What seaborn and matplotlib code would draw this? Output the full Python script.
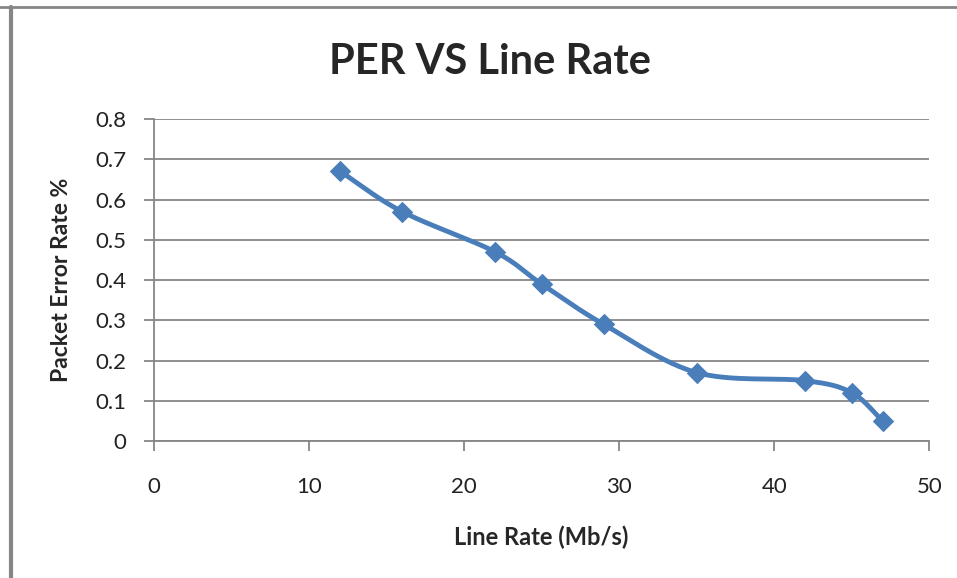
import numpy as np
import pandas as pd
import matplotlib
matplotlib.use("Agg")
import matplotlib.pyplot as plt
import seaborn as sns

line_rate = [12, 16, 22, 25, 29, 35, 42, 45, 47]
per = [0.67, 0.57, 0.47, 0.39, 0.29, 0.17, 0.15, 0.12, 0.05]
x_ticks = [0, 10, 20, 30, 40, 50]
y_ticks = [0, 0.1, 0.2, 0.3, 0.4, 0.5, 0.6, 0.7, 0.8]
y_tick_labels = ["0", "0.1", "0.2", "0.3", "0.4", "0.5", "0.6", "0.7", "0.8"]

df = pd.DataFrame({"rate": line_rate, "per": per})


# Excel-like smoothed line (Catmull-Rom through the data points)
def smooth(x, y, n=30):
    x = np.asarray(x, float)
    y = np.asarray(y, float)
    px = np.concatenate([[2 * x[0] - x[1]], x, [2 * x[-1] - x[-2]]])
    py = np.concatenate([[2 * y[0] - y[1]], y, [2 * y[-1] - y[-2]]])
    xs, ys = [], []
    t = np.linspace(0, 1, n)
    for i in range(1, len(px) - 2):
        for p, out in ((px, xs), (py, ys)):
            p0, p1, p2, p3 = p[i - 1], p[i], p[i + 1], p[i + 2]
            out.extend(0.5 * (2 * p1 + (-p0 + p2) * t
                              + (2 * p0 - 5 * p1 + 4 * p2 - p3) * t ** 2
                              + (-p0 + 3 * p1 - 3 * p2 + p3) * t ** 3))
    return pd.DataFrame({"rate": xs, "per": ys})


curve = smooth(line_rate, per)

sns.set_style("white")
plt.rcParams["font.family"] = ["Lato", "DejaVu Sans"]

blue = "#4a7ebb"
grey = "#868686"

fig = plt.figure(figsize=(9.57, 5.78), dpi=100)
ax = fig.add_axes([0.161, 0.237, 0.810, 0.557])

sns.lineplot(data=curve, x="rate", y="per", ax=ax, color=blue, linewidth=3.5,
             sort=False, estimator=None)
sns.scatterplot(data=df, x="rate", y="per", ax=ax, color=blue, marker="D",
                s=120, edgecolor=blue, linewidth=0, zorder=5)

ax.set_xlim(0, 50)
ax.set_ylim(0, 0.8)
ax.set_xticks(x_ticks)
ax.set_yticks(y_ticks)
ax.set_yticklabels(y_tick_labels)
ax.grid(axis="y", color=grey, linewidth=1.3)
ax.set_axisbelow(True)
for side in ["top", "right"]:
    ax.spines[side].set_visible(False)
for side in ["left", "bottom"]:
    ax.spines[side].set_color(grey)
    ax.spines[side].set_linewidth(1.3)
ax.tick_params(axis="both", direction="out", length=7, width=1.3, color=grey,
               labelsize=16, labelcolor="#222222", left=True, bottom=True)
ax.tick_params(axis="y", pad=13)
ax.tick_params(axis="x", pad=19)

ax.set_xlabel("Line Rate (Mb/s)", fontsize=17, fontweight="bold", va="center")
ax.xaxis.set_label_coords(0.5, -0.298)
ax.set_ylabel("Packet Error Rate %", fontsize=16.5, fontweight="bold", va="center")
ax.yaxis.set_label_coords(-0.119, 0.5)
fig.text(0.512, 0.893, "PER VS Line Rate", fontsize=30, fontweight="bold",
         ha="center", va="center")

# outer chart frame (top and left edges visible)
fig.add_artist(plt.Line2D([0.0, 1.0], [0.988, 0.988], color=grey, linewidth=2,
                          transform=fig.transFigure))
fig.add_artist(plt.Line2D([0.011, 0.011], [0.0, 0.988], color=grey, linewidth=3,
                          transform=fig.transFigure))

fig.savefig("out.png", dpi=100)
